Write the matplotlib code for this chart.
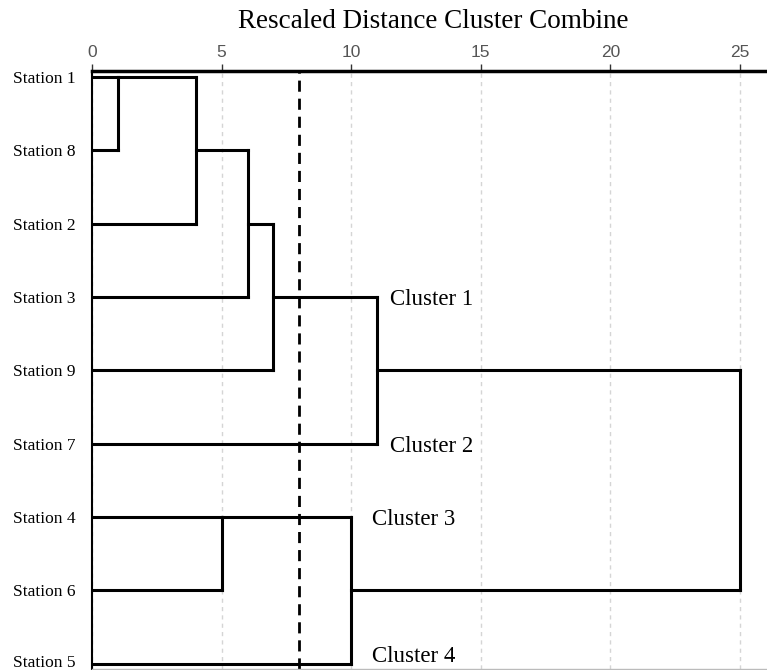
import matplotlib.pyplot as plt
from matplotlib.transforms import ScaledTranslation

# Station order (top to bottom) as shown in the dendrogram
stations = ['Station 1', 'Station 8', 'Station 2', 'Station 3', 'Station 9',
            'Station 7', 'Station 4', 'Station 6', 'Station 5']

# Merge steps: row of first child, row of second child, rescaled distance,
# row where the merged cluster continues
merge_a = [0, 0, 1, 2, 3, 6, 6, 4]
merge_b = [1, 2, 3, 4, 5, 7, 8, 7]
merge_dist = [1, 4, 6, 7, 11, 5, 10, 25]
merge_out = [0, 1, 2, 3, 4, 6, 7, None]

cut_distance = 8
cluster_names = ['Cluster 1', 'Cluster 2', 'Cluster 3', 'Cluster 4']
cluster_x = [11.5, 11.5, 10.8, 10.8]
cluster_row = [3, 5, 6, 7.87]

ticks = [0, 5, 10, 15, 20, 25]

serif = 'Liberation Serif'
sans = 'Liberation Sans'

fig = plt.figure(figsize=(7.67, 6.70), dpi=100)
ax = fig.add_axes([92 / 767, 1 / 670, 1 - 92 / 767, 598 / 670])

# start x of each current row (0 for leaves)
start = {i: 0 for i in range(len(stations))}
for a, b, d, out in zip(merge_a, merge_b, merge_dist, merge_out):
    ax.plot([start[a], d], [a, a], color='black', lw=2.2, solid_capstyle='projecting')
    ax.plot([start[b], d], [b, b], color='black', lw=2.2, solid_capstyle='projecting')
    ax.plot([d, d], [a, b], color='black', lw=2.2, solid_capstyle='projecting')
    if out is not None:
        start[out] = d

# cut line
ax.axvline(cut_distance, color='black', lw=2, ls=(0, (4, 2.5)))

for name, cx, cr in zip(cluster_names, cluster_x, cluster_row):
    ax.text(cx, cr, name, family=serif, fontsize=16.5, va='center_baseline', ha='left')

ax.set_xlim(0, 26.04)
ax.set_ylim(8.07, -0.08)
ax.xaxis.tick_top()
ax.set_xticks(ticks)
ax.set_xticklabels([str(t) for t in ticks], family=sans, fontsize=12.5, color='#555555')
ax.tick_params(axis='x', length=5, width=1, color='#333333', pad=3)
ax.grid(axis='x', color='#d5d5d5', ls=(0, (3, 3)), lw=1)
ax.set_axisbelow(True)

ax.set_yticks(range(len(stations)))
ax.set_yticklabels(stations, family=serif, fontsize=12.5)
ax.tick_params(axis='y', length=0, pad=12)
# keep the last label inside the figure
last = ax.get_yticklabels()[-1]
last.set_transform(last.get_transform() + ScaledTranslation(0, 3 / 100, fig.dpi_scale_trans))

ax.spines['top'].set_linewidth(2.5)
ax.spines['left'].set_linewidth(1.5)
ax.spines['right'].set_visible(False)
ax.spines['bottom'].set_color('#bbbbbb')
ax.spines['bottom'].set_linewidth(1)

fig.text(433 / 767, 1 - 21 / 670, 'Rescaled Distance Cluster Combine',
         family=serif, fontsize=19.5, ha='center', va='center')

fig.savefig('out.png', dpi=100)
